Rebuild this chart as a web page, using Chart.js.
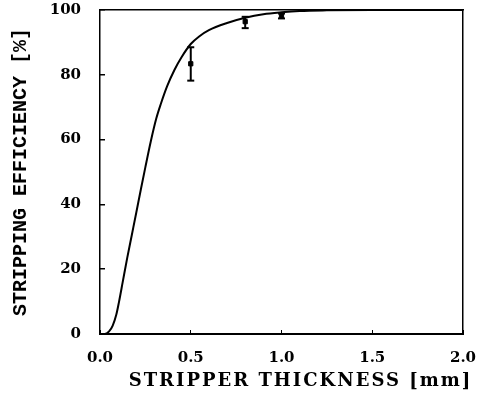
<!DOCTYPE html>
<html>
<head>
<meta charset="utf-8">
<script src="https://cdn.jsdelivr.net/npm/chart.js@4/dist/chart.umd.min.js"></script>
<style>
  html, body { margin: 0; padding: 0; background: #fff; }
  #wrap { width: 478px; height: 394px; }
</style>
</head>
<body>
<div id="wrap"><canvas id="chart"></canvas></div>
<script>
// fitted curve
const curveX = [0, 0.025, 0.05, 0.07, 0.09, 0.105, 0.125, 0.15, 0.175, 0.2, 0.225, 0.25, 0.28, 0.31, 0.335, 0.37, 0.41, 0.45, 0.5, 0.55, 0.6, 0.7, 0.8, 0.9, 1.0, 1.1, 1.25, 1.5, 2.0];
const curveY = [0, 0, 0.8, 2.6, 6, 10, 16, 23.5, 30.5, 37.5, 44.6, 51.5, 59.5, 66.5, 71, 76.5, 81.5, 85.5, 89.5, 92, 93.8, 96, 97.6, 98.7, 99.3, 99.7, 99.9, 100, 100];

// measured points with error bars
const pointX = [0.5, 0.8, 1.0];
const pointY = [83.4, 96.4, 98.2];
const errLow = [78.2, 94.4, 97.4];
const errHigh = [88.5, 97.9, 98.9];

const xTicks = [0, 0.5, 1.0, 1.5, 2.0];
const yTicks = [0, 20, 40, 60, 80, 100];

const tickFont = { family: 'DejaVu Serif', size: 15, weight: 'bold' };

// the scanned figure uses spaced lettering; wrap a scale's title drawing with canvas letterSpacing
const spaced = (fn, px, dx) => function spacedDraw(...args) {
  const { ctx } = this;
  ctx.save();
  ctx.letterSpacing = px + 'px';
  ctx.translate(dx || 0, 0);
  fn.apply(this, args);
  ctx.restore();
};

const datasets = [
  {
    label: 'fit',
    data: curveX.map((x, i) => ({ x, y: curveY[i] })),
    borderColor: '#000',
    borderWidth: 2,
    pointRadius: 0,
    cubicInterpolationMode: 'monotone',
    showLine: true,
  },
  {
    label: 'measured',
    data: pointX.map((x, i) => ({ x, y: pointY[i] })),
    backgroundColor: '#000',
    borderColor: '#000',
    pointStyle: 'rect',
    pointRadius: 3,
    showLine: false,
  },
];

// each error bar is a short vertical line with flat caps
pointX.forEach((x, i) => {
  datasets.push({
    label: 'err' + i,
    data: [{ x, y: errLow[i] }, { x, y: errHigh[i] }],
    borderColor: '#000',
    borderWidth: 2,
    pointStyle: 'line',
    pointRadius: 3.5,
    pointBorderWidth: 2,
    showLine: true,
  });
});

new Chart(document.getElementById('chart'), {
  type: 'scatter',
  data: { datasets },
  options: {
    responsive: true,
    maintainAspectRatio: false,
    animation: false,
    layout: { padding: { top: 10, right: 15, left: 0, bottom: 0 } },
    plugins: { legend: { display: false }, tooltip: { enabled: false } },
    scales: {
      x: {
        type: 'linear',
        min: 0,
        max: 2,
        afterFit: (scale) => {
          scale.height = 60;
          scale.paddingLeft = 0;
          scale.paddingRight = 0;
          if (!scale.isSpaced) {
            scale.drawTitle = spaced(scale.drawTitle, 2, 19);
            scale.isSpaced = true;
          }
        },
        afterBuildTicks: (scale) => { scale.ticks = xTicks.map((v) => ({ value: v })); },
        grid: {
          display: true,
          drawOnChartArea: false,
          drawTicks: true,
          tickLength: -4,
          color: '#000',
          lineWidth: 1,
        },
        border: { display: true, color: '#000', width: 2 },
        ticks: {
          color: '#000',
          font: tickFont,
          padding: 19,
          callback: (v) => v.toFixed(1),
        },
        title: {
          display: true,
          text: 'STRIPPER THICKNESS [mm]',
          color: '#000',
          font: { family: 'DejaVu Serif', size: 18, weight: 'bold' },
          padding: { top: 0, bottom: 2 },
        },
      },
      y: {
        type: 'linear',
        min: 0,
        max: 100,
        afterFit: (scale) => {
          scale.width = 100;
          scale.paddingTop = 0;
          scale.paddingBottom = 0;
        },
        afterBuildTicks: (scale) => { scale.ticks = yTicks.map((v) => ({ value: v })); },
        grid: {
          display: true,
          drawOnChartArea: false,
          drawTicks: true,
          tickLength: -5,
          color: '#000',
          lineWidth: 1.5,
        },
        border: { display: true, color: '#000', width: 1.5, dash: [2, 2] },
        ticks: { color: '#000', font: tickFont, padding: 24 },
        title: {
          display: true,
          text: 'STRIPPING EFFICIENCY [%]',
          color: '#000',
          font: { family: 'Liberation Mono', size: 20, weight: 'bold' },
          padding: { top: 9, bottom: 0 },
        },
      },
      xTop: {
        type: 'linear',
        position: 'top',
        min: 0,
        max: 2,
        afterFit: (scale) => { scale.height = 0; scale.paddingLeft = 0; scale.paddingRight = 0; },
        grid: { display: false, drawTicks: false },
        border: { display: true, color: '#000', width: 1.5, dash: [2, 3] },
        ticks: { display: false },
      },
      yRight: {
        type: 'linear',
        position: 'right',
        min: 0,
        max: 100,
        afterFit: (scale) => { scale.width = 0; scale.paddingTop = 0; scale.paddingBottom = 0; },
        grid: { display: false, drawTicks: false },
        border: { display: true, color: '#000', width: 1.5, dash: [2, 2] },
        ticks: { display: false },
      },
    },
  },
});
</script>
</body>
</html>
